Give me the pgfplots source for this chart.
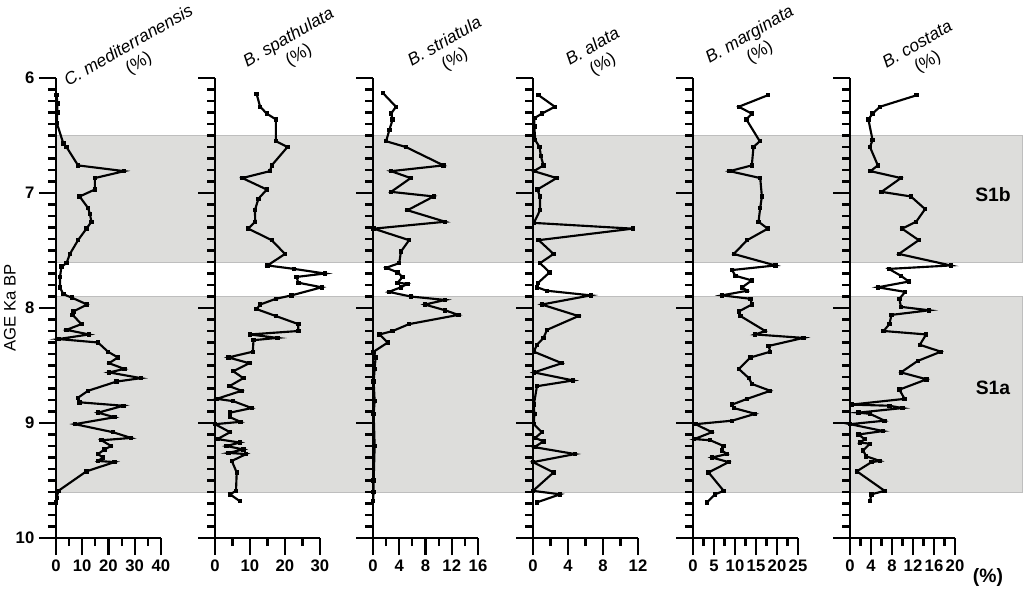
\documentclass[border=0pt]{standalone}
\usepackage{pgfplots}
\pgfplotsset{compat=1.18}
\usepackage{fontspec}
\setmainfont{Liberation Sans}
\definecolor{bandgray}{RGB}{221,221,219}
\definecolor{bandedge}{RGB}{190,190,190}
\pgfplotsset{
  panel/.style={
    scale only axis, width=78.75pt, height=345pt,
    anchor=south west,
    y dir=reverse, ymin=6, ymax=10, ytick={6,7,8,9,10}, minor y tick num=9,
    xmin=0, minor x tick num=1,
    axis x line=bottom, axis y line=left,
    axis line style={-, line width=2pt, black},
    tick align=outside,
    major tick length=12.75pt, minor tick length=6pt,
    every tick/.append style={black, line width=1.6pt},
    tick label style={font=\bfseries\fontsize{12.5}{14}\selectfont},
    /pgf/number format/assume math mode=true,
    clip=false,
  },
  curve/.style={black, line width=1.6pt, mark=square*, mark size=0.85pt, mark options={solid, black}},
}
\begin{document}
\begin{tikzpicture}
\useasboundingbox (0,0) rectangle (768pt,451.5pt);
% Panel 1
\begin{axis}[panel, at={(42pt,48pt)}, xmax=40, xtick={0,10,20,30,40}, axis on top]
\addplot[fill=bandgray, draw=bandedge, line width=0.7pt, mark=none, forget plot] coordinates {(0,6.5) (368,6.5) (368,7.6) (0,7.6)} -- cycle;
\addplot[fill=bandgray, draw=bandedge, line width=0.7pt, mark=none, forget plot] coordinates {(0,7.9) (368,7.9) (368,9.6) (0,9.6)} -- cycle;
\addplot[curve] coordinates {(0.25,6.15) (0.5,6.22) (0.5,6.30) (0.3,6.39) (2.8,6.57) (4,6.60) (8.4,6.76) (26,6.81) (14.8,6.87) (14.8,6.97) (9,7.03) (12.2,7.13) (12.9,7.18) (13.5,7.25) (11.6,7.31) (8.4,7.41) (5.3,7.53) (4,7.61) (2.1,7.64) (1.5,7.73) (1.5,7.82) (2.8,7.88) (6,7.91) (11.9,7.97) (6.6,8.03) (6.3,8.06) (9.7,8.14) (4,8.19) (12.6,8.23) (0.9,8.27) (16,8.30) (19.8,8.38) (23.6,8.43) (20.2,8.48) (26.1,8.53) (20.2,8.56) (32.4,8.61) (23,8.64) (12.2,8.72) (8.4,8.78) (9,8.82) (25.7,8.85) (16,8.91) (22.3,8.95) (7.2,9.01) (21.7,9.08) (28.6,9.13) (17.3,9.15) (21,9.20) (18.5,9.23) (16,9.27) (17.9,9.30) (16,9.33) (22.3,9.34) (11.6,9.42) (0.9,9.59) (0.3,9.65) (0,9.69)};
\end{axis}
% Panel 2
\begin{axis}[panel, at={(161.25pt,48pt)}, xmax=30, xtick={0,10,20,30}, yticklabels={}]
\addplot[curve] coordinates {(11.9,6.14) (12.9,6.25) (14.8,6.31) (17.4,6.36) (17.4,6.55) (20.7,6.60) (16.2,6.76) (15.7,6.81) (7.8,6.87) (14.8,6.97) (12.4,7.05) (11.4,7.15) (11.5,7.25) (9.5,7.31) (16.2,7.41) (20,7.53) (15,7.63) (22.6,7.66) (31.4,7.70) (23.3,7.73) (23.8,7.78) (30.5,7.82) (21.9,7.89) (17.4,7.92) (12.9,7.97) (11.9,8.01) (17.4,8.07) (23.8,8.14) (23.8,8.20) (10,8.23) (17.8,8.26) (11,8.28) (10.8,8.38) (3.8,8.43) (9.8,8.48) (5.2,8.55) (8.1,8.61) (4.1,8.68) (7.6,8.72) (0.5,8.79) (5.2,8.81) (10.5,8.87) (4.3,8.91) (4.3,8.95) (7.3,8.99) (0,9.01) (4.3,9.08) (0.7,9.14) (7.1,9.17) (3.3,9.20) (8.1,9.23) (3.8,9.26) (8.9,9.27) (4.8,9.33) (6.2,9.43) (6,9.59) (4.3,9.62) (7.1,9.68)};
\end{axis}
% Panel 3
\begin{axis}[panel, at={(279.75pt,48pt)}, xmax=16, xtick={0,4,8,12,16}, yticklabels={}]
\addplot[curve] coordinates {(1.5,6.13) (3.5,6.25) (2.75,6.31) (3,6.36) (2.5,6.45) (2,6.55) (5,6.60) (10.75,6.76) (2.75,6.81) (5.75,6.87) (2.75,6.99) (9.25,7.03) (5.25,7.15) (11,7.25) (0.1,7.31) (5.5,7.41) (4.25,7.51) (4,7.61) (2,7.65) (3.75,7.69) (4.5,7.73) (3.75,7.78) (5.25,7.79) (4.25,7.82) (2.4,7.86) (5.75,7.90) (11,7.93) (7.9,7.97) (11,8.02) (13,8.06) (5.5,8.14) (3,8.20) (1,8.23) (2.25,8.30) (0.1,8.38) (0.4,8.43) (0.25,8.53) (0.1,8.64) (0.25,8.81) (0.1,8.92) (0.25,9.20) (0.1,9.50) (0.1,9.60) (0,9.68)};
\end{axis}
% Panel 4
\begin{axis}[panel, at={(399.75pt,48pt)}, xmax=12, xtick={0,4,8,12}, yticklabels={}]
\addplot[curve] coordinates {(0.65,6.15) (2.5,6.25) (1,6.31) (0.15,6.35) (0.15,6.42) (0.25,6.54) (0.75,6.60) (0.9,6.68) (1.2,6.76) (0.1,6.81) (2.7,6.87) (0.5,6.97) (0.8,7.03) (0.8,7.15) (0.1,7.26) (11.4,7.31) (0.65,7.41) (2.35,7.53) (0.8,7.61) (1.9,7.69) (0.6,7.78) (0.45,7.82) (1.6,7.85) (6.6,7.89) (1.0,7.97) (5.2,8.07) (1.6,8.19) (1.2,8.26) (0.45,8.32) (0.1,8.38) (3.3,8.48) (0.1,8.56) (4.6,8.63) (0.45,8.68) (0.1,8.84) (0.15,8.92) (0.1,9.01) (1,9.08) (0.25,9.13) (1.2,9.16) (0.15,9.21) (4.8,9.27) (0,9.34) (2.35,9.43) (0,9.59) (3.1,9.62) (0.45,9.69)};
\end{axis}
% Panel 5
\begin{axis}[panel, at={(519.75pt,48pt)}, xmax=25, xtick={0,5,10,15,20,25}, yticklabels={}]
\addplot[curve] coordinates {(17.8,6.15) (10.9,6.25) (14,6.31) (12.7,6.36) (15.9,6.55) (14.4,6.60) (14,6.76) (8.7,6.81) (16,6.87) (16.4,7.03) (16,7.13) (15.6,7.25) (17.8,7.31) (12.9,7.41) (9.7,7.53) (19.6,7.63) (9.3,7.67) (10.1,7.72) (14.0,7.76) (11.7,7.82) (12.9,7.85) (6.9,7.89) (13.7,7.92) (14,7.97) (10.9,8.03) (11.3,8.07) (17.2,8.20) (14.8,8.23) (26.3,8.26) (18,8.33) (18.4,8.38) (13.7,8.43) (10.9,8.53) (13.3,8.61) (14,8.66) (18.4,8.72) (12.9,8.79) (9.3,8.84) (9.7,8.87) (14.8,8.92) (9.3,8.98) (0.6,9.01) (4.5,9.08) (0.3,9.14) (4.1,9.15) (7.3,9.20) (6.9,9.24) (8.1,9.27) (4.5,9.30) (8.5,9.34) (3.7,9.43) (7.3,9.59) (5.3,9.62) (3.3,9.69)};
\end{axis}
% Panel 6
\begin{axis}[panel, at={(637.5pt,48pt)}, xmax=20, xtick={0,4,8,12,16,20}, yticklabels={}]
\addplot[curve] coordinates {(12.7,6.15) (5.7,6.25) (4.3,6.31) (3.5,6.36) (4.3,6.54) (3.8,6.60) (5.3,6.76) (3.9,6.81) (9.7,6.87) (6,6.99) (11.6,7.03) (14.3,7.14) (12.6,7.25) (9.9,7.31) (13.1,7.41) (9.3,7.53) (19.2,7.63) (7.4,7.66) (9.7,7.72) (11.2,7.77) (5.3,7.82) (10.5,7.86) (9.4,7.92) (9.7,7.99) (15.1,8.02) (7.9,8.06) (7.5,8.14) (6.4,8.20) (14.5,8.23) (13.3,8.32) (17.3,8.38) (12.9,8.46) (9.7,8.56) (14.6,8.62) (9.4,8.71) (10.4,8.79) (0.3,8.84) (7.5,8.85) (10,8.87) (1.6,8.91) (3.8,8.92) (6.6,8.98) (0,9.01) (6.3,9.07) (1.6,9.10) (2.8,9.14) (1.9,9.17) (3.8,9.18) (2.5,9.24) (3.1,9.29) (5.7,9.33) (4.1,9.34) (1.3,9.42) (6.6,9.59) (4.1,9.62) (3.8,9.68)};
\end{axis}
% Titles
\tikzset{ttl/.style={rotate=30, align=center, inner sep=0pt, font=\fontsize{13}{15}\selectfont}}
\node[ttl] at (100.5pt,410.25pt) {\itshape C. mediterranensis\\(\%)};
\node[ttl] at (220.5pt,416.25pt) {\itshape B. spathulata\\(\%)};
\node[ttl] at (337.5pt,413.25pt) {\itshape B. striatula\\(\%)};
\node[ttl] at (448.5pt,409.5pt) {\itshape B. alata\\(\%)};
\node[ttl] at (566.25pt,418.5pt) {\itshape B. marginata\\(\%)};
\node[ttl] at (692.25pt,411pt) {\itshape B. costata\\(\%)};
\node[rotate=90, font=\fontsize{12.5}{13}\selectfont] at (7.5pt,220.5pt) {AGE Ka BP};
\node[font=\bfseries\fontsize{14.5}{15}\selectfont] at (741pt,18pt) {(\%)};
\node[font=\bfseries\fontsize{14.5}{15}\selectfont] at (744.75pt,305.25pt) {S1b};
\node[font=\bfseries\fontsize{14.5}{15}\selectfont] at (744.75pt,160.5pt) {S1a};
\end{tikzpicture}
\end{document}
